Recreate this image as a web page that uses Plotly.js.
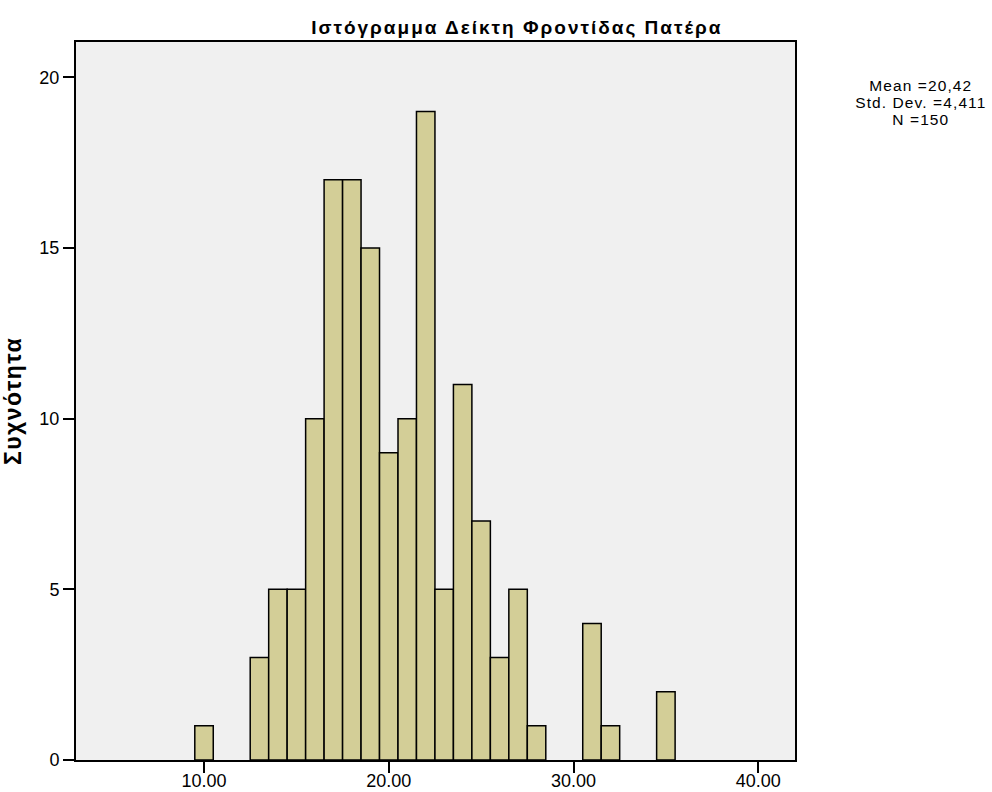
<!DOCTYPE html>
<html>
<head>
<meta charset="utf-8">
<script src="https://cdn.plot.ly/plotly-3.0.1.min.js"></script>
<style>
html,body{margin:0;padding:0;background:#fff;}
#chart{width:992px;height:792px;}
#chart .gtitle{letter-spacing:2px !important;}
#chart .ytitle{letter-spacing:1.5px !important;}
#chart .annotation-text{letter-spacing:1.1px !important;}
</style>
</head>
<body>
<div id="chart"></div>
<script>
var binCenters = [10, 13, 14, 15, 16, 17, 18, 19, 20, 21, 22, 23, 24, 25, 26, 27, 28, 31, 32, 35];
var counts =     [1, 3, 5, 5, 10, 17, 17, 15, 9, 10, 19, 5, 11, 7, 3, 5, 1, 4, 1, 2];
var xTickVals = [10, 20, 30, 40];
var xTickText = ["10.00", "20.00", "30.00", "40.00"];
var yTickVals = [0, 5, 10, 15, 20];
var statsLines = ["Mean =20,42", "Std. Dev. =4,411", "N =150"];

var trace = {
  type: 'bar',
  x: binCenters,
  y: counts,
  width: binCenters.map(function(){return 1;}),
  marker: {color: '#d3ce97', line: {color: '#000', width: 1.5}},
  hoverinfo: 'x+y'
};

var font = 'Liberation Sans, Arial, sans-serif';

var layout = {
  width: 992, height: 792,
  margin: {l: 76, r: 197, t: 42, b: 32, pad: 0},
  paper_bgcolor: '#ffffff',
  plot_bgcolor: '#f0f0f0',
  font: {family: font, color: '#000', size: 16},
  title: {text: '<b>Ιστόγραμμα Δείκτη Φροντίδας Πατέρα</b>', font: {size: 19, family: font}, x: 0.521, xref: 'container', xanchor: 'center', y: 0.966, yref: 'container', yanchor: 'middle'},
  showlegend: false,
  bargap: 0,
  xaxis: {
    range: [3.07, 41.99],
    tickvals: xTickVals, ticktext: xTickText,
    ticks: 'outside', ticklen: 11, tickwidth: 2, tickcolor: '#000',
    ticklabelstandoff: -8,
    showline: true, linecolor: '#000', linewidth: 2, mirror: true,
    showgrid: false, zeroline: false,
    tickfont: {size: 18}
  },
  yaxis: {
    range: [0, 21.04],
    tickvals: yTickVals,
    ticks: 'outside', ticklen: 11, tickwidth: 2, tickcolor: '#000',
    showline: true, linecolor: '#000', linewidth: 2, mirror: true,
    showgrid: false, zeroline: false,
    tickfont: {size: 18},
    title: {text: '<b>Συχνότητα</b>', font: {size: 23}, standoff: 18}
  },
  annotations: [{
    text: statsLines.join('<br>'), xref: 'paper', yref: 'paper', x: 1.1752, y: 0.954,
    xanchor: 'center', yanchor: 'top', showarrow: false, align: 'center',
    font: {size: 15.5}
  }]
};

Plotly.newPlot('chart', [trace], layout, {displayModeBar: false, staticPlot: true}).then(function(gd){
  var lines = gd.querySelectorAll('.annotation-text tspan.line');
  for (var i = 0; i < lines.length; i++) {
    lines[i].setAttribute('dy', (i * 1.1) + 'em');
  }
});
</script>
</body>
</html>
